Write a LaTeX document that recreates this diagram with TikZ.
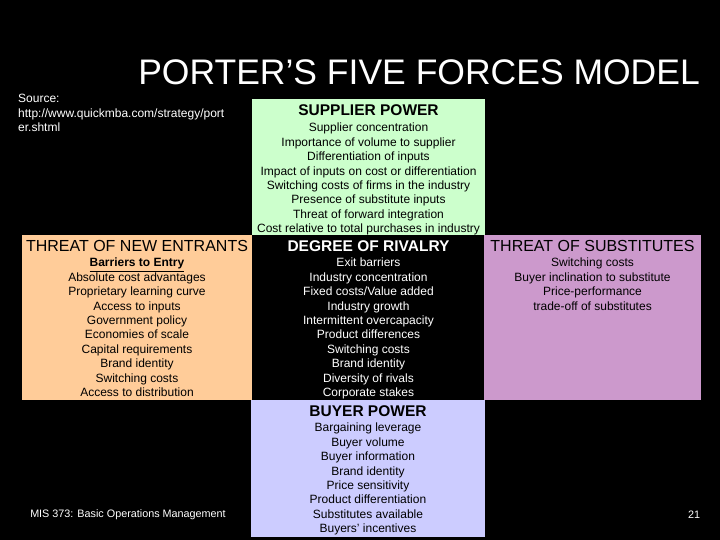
\documentclass[tikz,border=0pt]{standalone}
\usepackage{fontspec}
\setmainfont{Liberation Sans}
\definecolor{supg}{RGB}{204,255,204}
\definecolor{neworg}{RGB}{255,204,153}
\definecolor{subpur}{RGB}{204,153,204}
\definecolor{buyl}{RGB}{204,204,255}
\begin{document}
\begin{tikzpicture}[x=1pt,y=-1pt,
  lst/.style={align=center,font=\fontsize{12}{14.4}\selectfont,inner sep=0pt,anchor=north},
  hd/.style={font=\fontsize{16}{18}\selectfont,inner sep=0pt}]
\fill[black] (0,0) rectangle (720,540);
\useasboundingbox (0,0) rectangle (720,540);
\fill[supg] (252,99) rectangle (485,235);
\fill[neworg] (22,235) rectangle (252,400);
\fill[subpur] (484,235) rectangle (701,400);
\fill[buyl] (251,400) rectangle (485,537);
\node[white,font=\fontsize{35.5}{40}\selectfont,anchor=east,inner sep=0pt] (title) at (700,72) {PORTER\char"0027 S FIVE FORCES MODEL};
\node[white,align=left,anchor=north west,inner sep=0pt,font=\fontsize{12}{14.5}\selectfont] (src) at (18,94) {Source:\\http://www.quickmba.com/strategy/port\\er.shtml};
\node[hd,font=\fontsize{15.5}{18}\selectfont\bfseries] (sh) at (368.5,110) {SUPPLIER POWER};
\node[lst] (sl) at (368.5,123) {Supplier concentration\\Importance of volume to supplier\\Differentiation of inputs\\Impact of inputs on cost or differentiation\\Switching costs of firms in the industry\\Presence of substitute inputs\\Threat of forward integration\\Cost relative to total purchases in industry};
\node[hd] (nh) at (137,246) {THREAT OF NEW ENTRANTS};
\node[lst] (nl) at (137,258) {\underline{\textbf{Barriers to Entry}}\\Absolute cost advantages\\Proprietary learning curve\\Access to inputs\\Government policy\\Economies of scale\\Capital requirements\\Brand identity\\Switching costs\\Access to distribution};
\node[hd,white,font=\fontsize{15.5}{18}\selectfont\bfseries] (rh) at (368.5,246) {DEGREE OF RIVALRY};
\node[lst,white] (rl) at (368.5,258) {Exit barriers\\Industry concentration\\Fixed costs/Value added\\Industry growth\\Intermittent overcapacity\\Product differences\\Switching costs\\Brand identity\\Diversity of rivals\\Corporate stakes};
\node[hd] (th) at (592.5,246) {THREAT OF SUBSTITUTES};
\node[lst] (tl) at (592.5,258) {Switching costs\\Buyer inclination to substitute\\Price-performance\\trade-off of substitutes};
\node[hd,font=\fontsize{15.5}{18}\selectfont\bfseries] (bh) at (368,411) {BUYER POWER};
\node[lst] (bl) at (368,423) {Bargaining leverage\\Buyer volume\\Buyer information\\Brand identity\\Price sensitivity\\Product differentiation\\Substitutes available\\Buyers\char"0027\ incentives};
\node[white,font=\fontsize{10.8}{12}\selectfont] (ft) at (128,515) {MIS 373: Basic Operations Management};
\node[white,font=\fontsize{10.8}{12}\selectfont] (pg) at (694,515) {21};
\end{tikzpicture}
\end{document}
